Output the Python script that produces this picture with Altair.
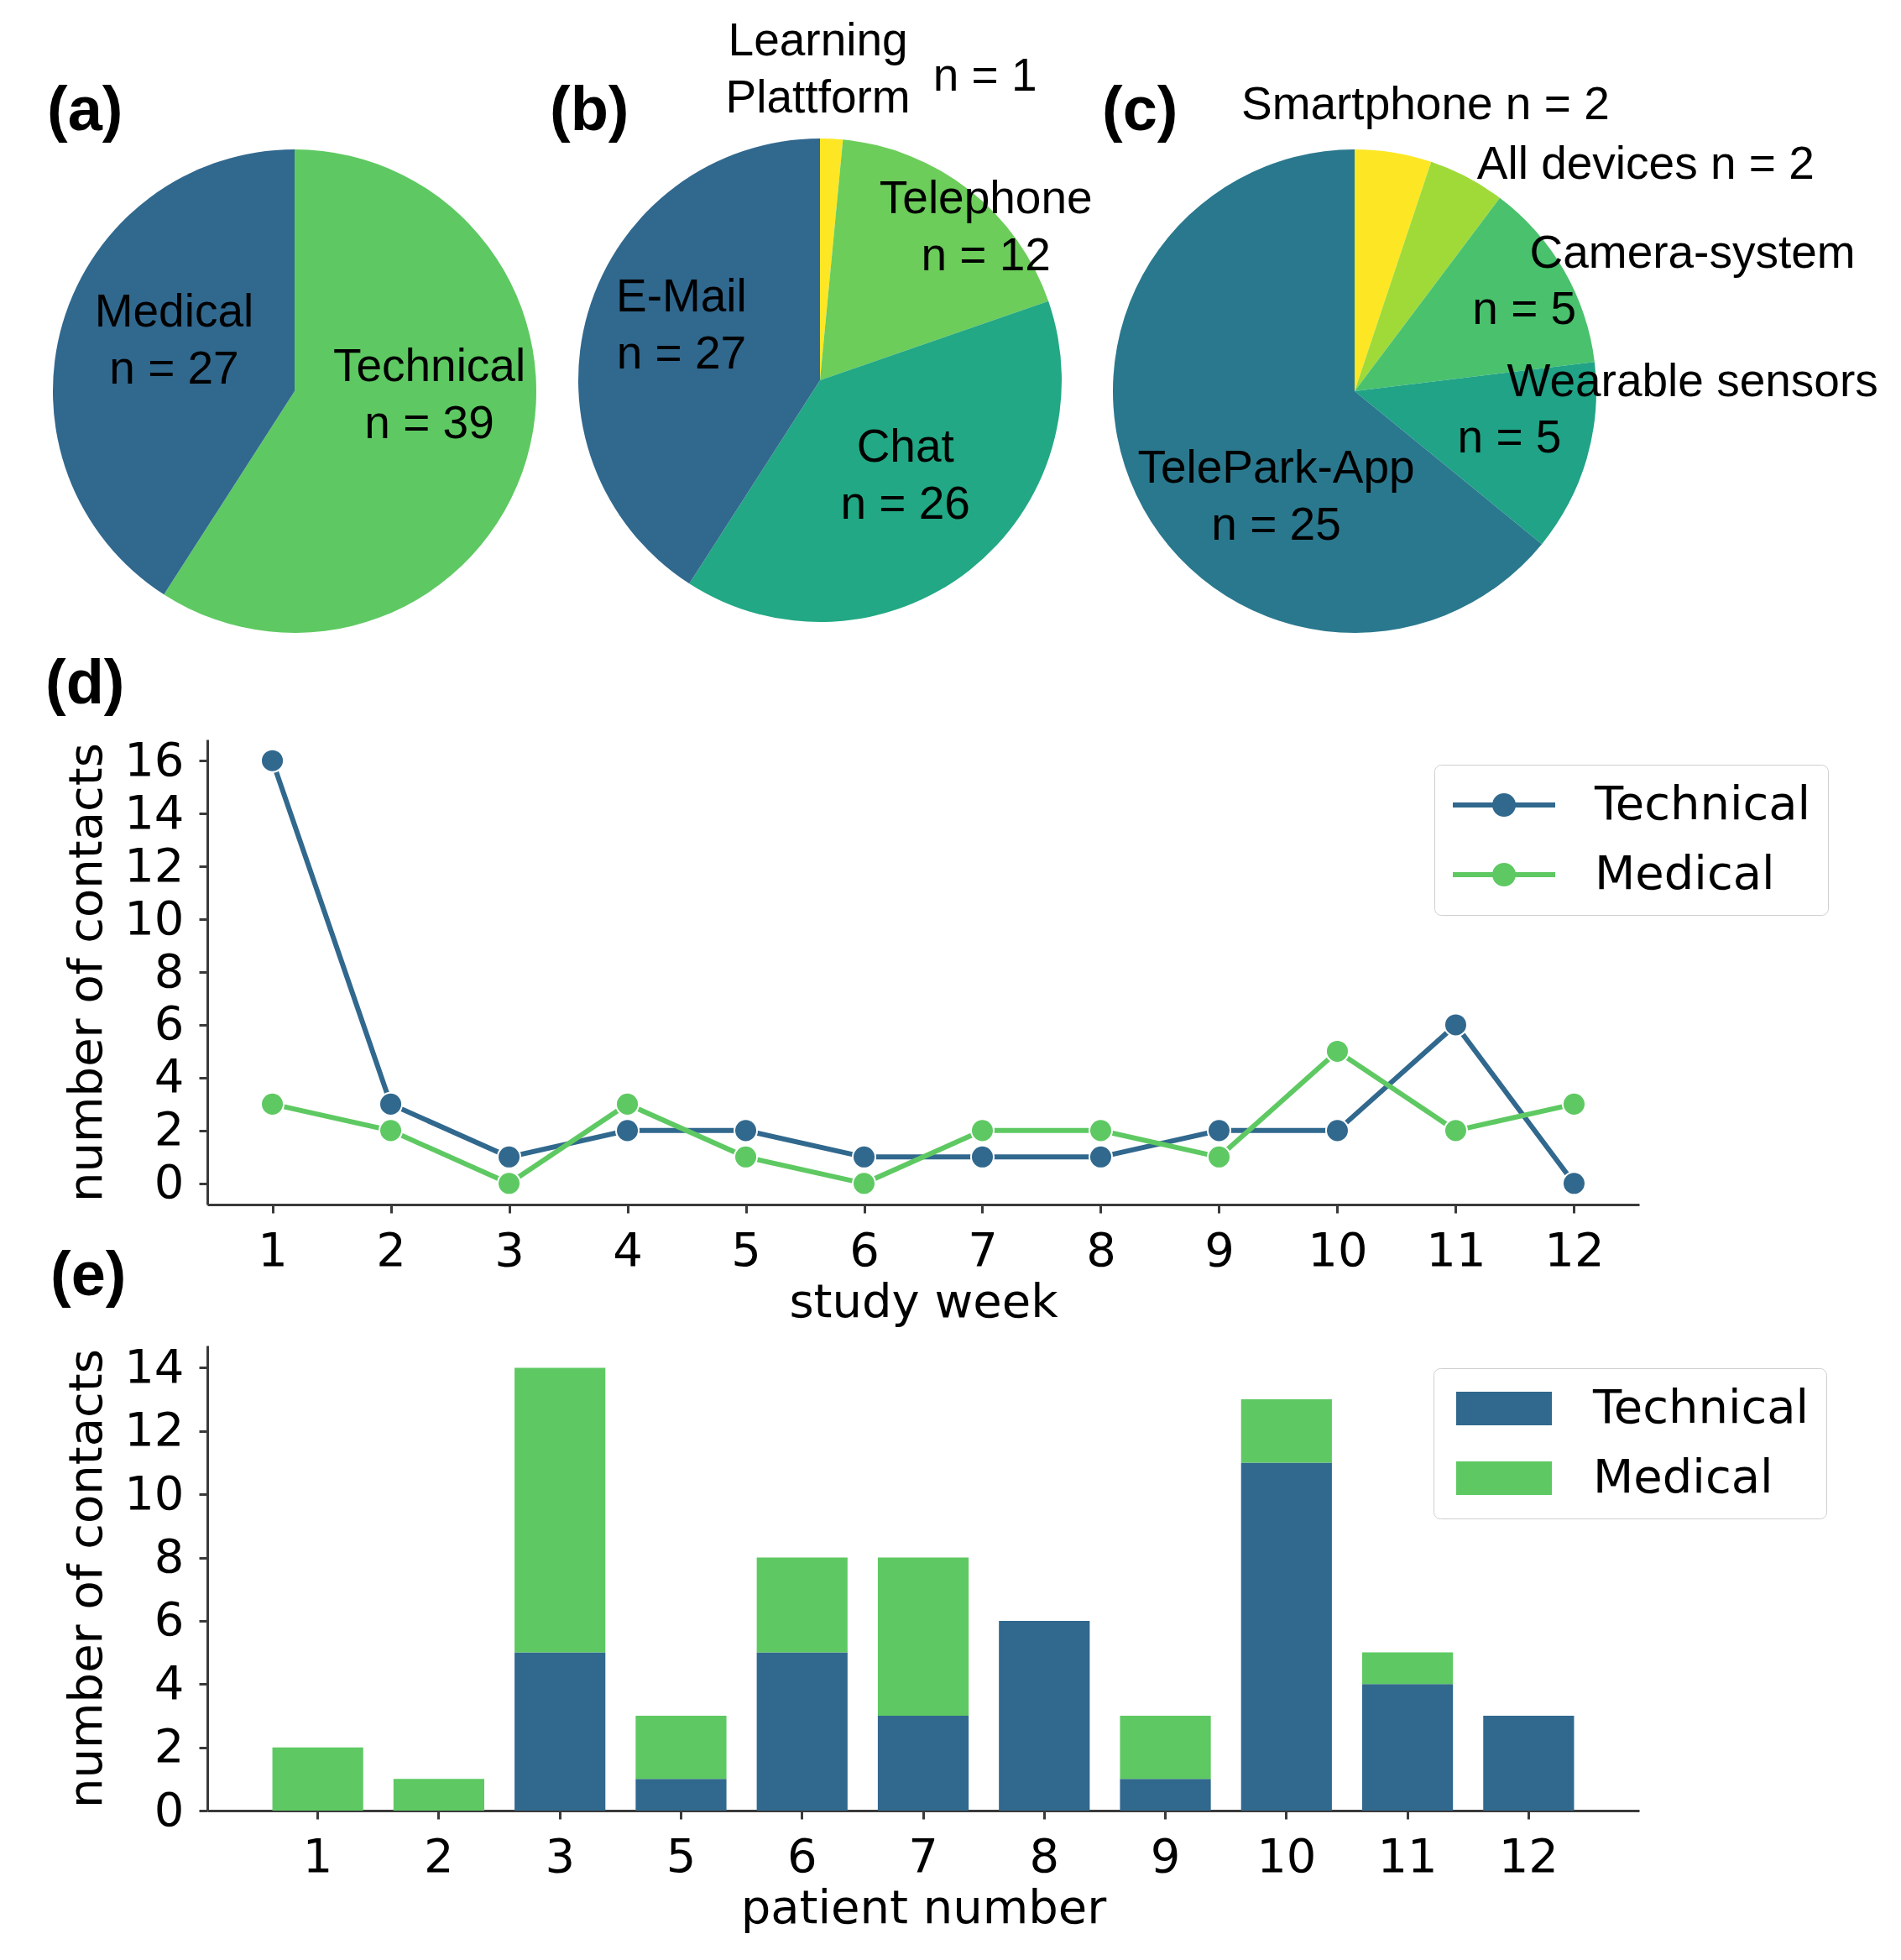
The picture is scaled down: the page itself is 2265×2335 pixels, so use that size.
import altair as alt
import pandas as pd

# ---------------- data ----------------
# (a) type of contact
a_categories = ["Technical", "Medical"]
a_counts = [39, 27]
a_colors = ["#5ec962", "#31688e"]

# (b) contact channel
b_categories = ["Learning Plattform", "Telephone", "Chat", "E-Mail"]
b_counts = [1, 12, 26, 27]
b_colors = ["#fde725", "#6ccd5a", "#22a884", "#31688e"]

# (c) device concerned
c_categories = ["Smartphone", "All devices", "Camera-system", "Wearable sensors", "TelePark-App"]
c_counts = [2, 2, 5, 5, 25]
c_colors = ["#fde725", "#a0da39", "#4ac16d", "#20a386", "#2a788e"]

# (d) contacts per study week
weeks = [1, 2, 3, 4, 5, 6, 7, 8, 9, 10, 11, 12]
week_technical = [16, 3, 1, 2, 2, 1, 1, 1, 2, 2, 6, 0]
week_medical = [3, 2, 0, 3, 1, 0, 2, 2, 1, 5, 2, 3]
week_ticks = [0, 2, 4, 6, 8, 10, 12, 14, 16]

# (e) contacts per patient
patients = ["1", "2", "3", "5", "6", "7", "8", "9", "10", "11", "12"]
patient_technical = [0, 0, 5, 1, 5, 3, 6, 1, 11, 4, 3]
patient_medical = [2, 1, 9, 2, 3, 5, 0, 2, 2, 1, 0]
patient_ticks = [0, 2, 4, 6, 8, 10, 12, 14]

series = ["Technical", "Medical"]
series_colors = ["#31688e", "#5ec962"]

# ---------------- styling ----------------
PIE_FONT = "Liberation Sans"
AX_FONT = "DejaVu Sans"
PIE_R = 288
FS_PIE = 55
LH_PIE = 68
FS_AX = 56
FS_PANEL = 74
AX_COLOR = "#3a3a3a"
PLOT_W = 1706
PIE_ROW_H = 494


def n_text(c):
    return "n = " + str(c)


def pie(cats, counts, colors, labels, panel, cx, cy, panel_x, panel_y):
    df = pd.DataFrame({"category": cats, "count": counts, "order": list(range(len(cats)))})
    base = alt.Chart(df).encode(
        theta=alt.Theta("count:Q", stack=True),
        order=alt.Order("order:Q"),
        x=alt.value(cx),
        y=alt.value(cy),
    )
    arcs = base.mark_arc(radius=PIE_R).encode(
        color=alt.Color("category:N", scale=alt.Scale(domain=cats, range=colors), legend=None)
    )
    layers = [arcs]
    for cat, text, r, dx, dy, align in labels:
        n_lines = text.count("\n") + 1
        layers.append(
            base.mark_text(
                radius=r, dx=dx, dy=dy - (n_lines - 1) * LH_PIE / 2, align=align,
                baseline="middle", lineBreak="\n", font=PIE_FONT, fontSize=FS_PIE,
                lineHeight=LH_PIE, color="black",
            ).encode(
                text=alt.condition(alt.datum.category == cat, alt.value(text), alt.value(""))
            )
        )
    pdf = pd.DataFrame({"panel": [panel]})
    layers.append(
        alt.Chart(pdf).mark_text(
            align="left", baseline="alphabetic", font=PIE_FONT, fontSize=FS_PANEL,
            fontWeight="bold", color="black",
        ).encode(text="panel:N", x=alt.value(panel_x), y=alt.value(panel_y))
    )
    return alt.layer(*layers)


a_labels = [
    ("Technical", "Technical\n" + n_text(a_counts[0]), 160, 7, -40, "center"),
    ("Medical", "Medical\n" + n_text(a_counts[1]), 160, 10, -15, "center"),
]
b_labels = [
    ("Learning Plattform", "Learning\nPlattform", 370, -20, 0, "center"),
    ("Learning Plattform", n_text(b_counts[0]), 370, 179, 8, "center"),
    ("Telephone", "Telephone\n" + n_text(b_counts[1]), 260, 37, 22, "center"),
    ("Chat", "Chat\n" + n_text(b_counts[2]), 150, 9, -4, "center"),
    ("E-Mail", "E-Mail\n" + n_text(b_counts[3]), 170, -2, -17, "center"),
]
c_labels = [
    ("Smartphone", "Smartphone " + n_text(c_counts[0]), 345, 29, 0, "center"),
    ("All devices", "All devices " + n_text(c_counts[1]), 305, 4, 0, "left"),
    ("Camera-system", "Camera-system", 250, -8, -39, "left"),
    ("Camera-system", n_text(c_counts[2]), 200, 29, 3, "center"),
    ("Wearable sensors", "Wearable sensors", 190, -1, -64, "left"),
    ("Wearable sensors", n_text(c_counts[3]), 190, 2, 3, "center"),
    ("TelePark-App", "TelePark-App\n" + n_text(c_counts[4]), 140, 33, 66, "center"),
]

pie_a = pie(a_categories, a_counts, a_colors, a_labels, "(a)", 104, 247, -191, -64)
pie_b = pie(b_categories, b_counts, b_colors, b_labels, "(b)", 730, 234, 408, -64)
pie_c = pie(c_categories, c_counts, c_colors, c_labels, "(c)", 1367, 247, 1066, -64)

pies = alt.layer(pie_a, pie_b, pie_c).resolve_scale(
    theta="independent", color="independent"
).properties(width=PLOT_W, height=PIE_ROW_H)

# ---------------- (d) line chart ----------------
wk_rows = []
for s, vals in zip(series, [week_technical, week_medical]):
    for w, v in zip(weeks, vals):
        wk_rows.append({"week": w, "contacts": v, "series": s})
week_df = pd.DataFrame(wk_rows)

color_scale = alt.Scale(domain=series, range=series_colors)

LINE_SYMBOL = (
    "M-1.04,0L3.84,0"
    "M1.52,0A0.12,0.12 0 1,1 1.28,0A0.12,0.12 0 1,1 1.52,0"
    "M1.72,0A0.32,0.32 0 1,1 1.08,0A0.32,0.32 0 1,1 1.72,0"
    "M1.84,0A0.44,0.44 0 1,1 0.96,0A0.44,0.44 0 1,1 1.84,0"
)
BAR_SYMBOL = "M-0.84,-0.8H3.72V0.8H-0.84Z"


def legend(symbol, lx, ly, label_offset):
    return alt.Legend(
        title=None, orient="none", legendX=lx, legendY=ly,
        symbolType=symbol, symbolSize=2500, symbolStrokeWidth=6,
        labelFont=AX_FONT, labelFontSize=FS_AX, labelColor="black",
        labelOffset=label_offset, labelLimit=1000, rowPadding=27, padding=20,
        strokeColor="#cfcfcf", fillColor="white", cornerRadius=8,
    )


line_base = alt.Chart(week_df).encode(
    x=alt.X(
        "week:Q",
        scale=alt.Scale(domain=[0.45, 12.55], nice=False, zero=False),
        axis=alt.Axis(values=weeks, format="d", title="study week"),
    ),
    y=alt.Y(
        "contacts:Q",
        scale=alt.Scale(domain=[-0.8, 16.8], nice=False, zero=False),
        axis=alt.Axis(values=week_ticks, format="d", title="number of contacts"),
    ),
)
lines = line_base.mark_line(strokeWidth=6).encode(
    color=alt.Color("series:N", scale=color_scale, sort=series,
                    legend=legend(LINE_SYMBOL, 1462, 30, 115))
)
points = line_base.mark_point(filled=True, size=730, opacity=1, stroke="white", strokeWidth=2).encode(
    color=alt.Color("series:N", scale=color_scale, sort=series, legend=None)
)
line_chart = alt.layer(lines, points).properties(
    width=PLOT_W, height=554,
    title=alt.TitleParams(
        "(d)", anchor="start", frame="group", dx=-193, dy=79, offset=45, baseline="alphabetic",
        font=PIE_FONT, fontSize=FS_PANEL, fontWeight="bold", color="black",
    ),
)

# ---------------- (e) stacked bars ----------------
pt_rows = []
for k, (s, vals) in enumerate(zip(series, [patient_technical, patient_medical])):
    for p, v in zip(patients, vals):
        pt_rows.append({"patient": p, "contacts": v, "series": s, "stack_order": k})
patient_df = pd.DataFrame(pt_rows)

bar_chart = alt.Chart(patient_df).mark_bar().encode(
    x=alt.X(
        "patient:N", sort=patients,
        scale=alt.Scale(paddingInner=0.25, paddingOuter=0.5375),
        axis=alt.Axis(title="patient number", labelAngle=0),
    ),
    y=alt.Y(
        "contacts:Q", stack="zero",
        scale=alt.Scale(domain=[0, 14.7], nice=False),
        axis=alt.Axis(values=patient_ticks, format="d", title="number of contacts"),
    ),
    color=alt.Color("series:N", scale=color_scale, sort=series,
                    legend=legend(BAR_SYMBOL, 1461, 27, 114)),
    order=alt.Order("stack_order:Q"),
).properties(
    width=PLOT_W, height=554,
    title=alt.TitleParams(
        "(e)", anchor="start", frame="group", dx=-187, dy=74, offset=58, baseline="alphabetic",
        font=PIE_FONT, fontSize=FS_PANEL, fontWeight="bold", color="black",
    ),
)

chart = alt.vconcat(
    pies, line_chart, bar_chart, spacing=168, bounds="flush",
).resolve_scale(
    color="independent"
).resolve_legend(
    color="independent"
).properties(
    padding={"left": 46, "top": 14, "right": 5, "bottom": 5},
    background="white",
).configure_view(
    stroke=None
).configure_axis(
    grid=False,
    domainColor=AX_COLOR, domainWidth=3,
    tickColor=AX_COLOR, tickWidth=3, tickSize=10,
    labelFont=AX_FONT, labelFontSize=FS_AX, labelColor="black", labelPadding=18,
    labelFlush=False,
    titleFont=AX_FONT, titleFontSize=FS_AX, titleFontWeight="normal", titleColor="black",
).configure_axisX(
    titlePadding=6,
).configure_axisY(
    titlePadding=15,
)

chart.save("out.html", embed_options={"renderer": "svg", "actions": False})
